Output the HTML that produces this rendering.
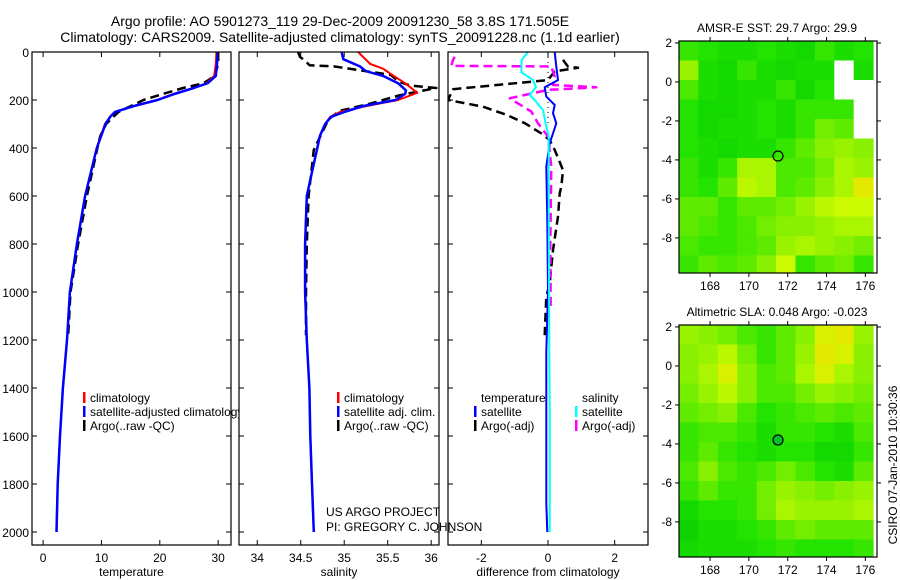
<!DOCTYPE html>
<html><head><meta charset="utf-8"><style>
html,body{margin:0;padding:0;background:#fff;}
svg{display:block;font-family:"Liberation Sans",sans-serif;}
</style></head><body>
<svg id="fig" width="900" height="580" viewBox="0 0 900 580" xmlns="http://www.w3.org/2000/svg">
<rect width="900" height="580" fill="#fff"/>
<text x="340" y="26" font-size="14" text-anchor="middle">Argo profile: AO 5901273_119 29-Dec-2009 20091230_58 3.8S 171.505E</text>
<text x="340" y="42" font-size="14" text-anchor="middle">Climatology: CARS2009. Satellite-adjusted climatology: synTS_20091228.nc (1.1d earlier)</text>
<text x="777" y="32" font-size="12" text-anchor="middle">AMSR-E SST: 29.7 Argo: 29.9</text>
<text x="777" y="316" font-size="12" text-anchor="middle">Altimetric SLA: 0.048 Argo: -0.023</text>
<text transform="translate(897,465) rotate(-90)" font-size="12" text-anchor="middle">CSIRO 07-Jan-2010 10:30:36</text>
<g id="plots"></g>
</svg>
<script>
// ---- profile data ----
const depthTClim = [0,50,100,130,150,175,200,225,250,270,300,400,600,800,1000,1200,1400,1600,1800,2000];
const tempClim   = [29.7,29.6,29.3,28,25.8,22.3,19.5,15.5,12.3,11.5,10.6,9.2,7.2,5.8,4.6,4.1,3.4,2.9,2.5,2.3];
const tempSat    = [29.9,29.8,29.6,28.2,25.8,22.5,19.6,15.6,12.3,11.5,10.7,9.2,7.2,5.8,4.6,4.1,3.4,2.9,2.5,2.3];
const depthTArgo = [0,50,100,130,150,175,200,250,300,350,400,600,800,1000,1180];
const tempArgo   = [30,30,29.4,27.5,24,20.5,17.2,12.9,10.8,9.8,9.3,7.5,6.0,4.7,4.3];

const depthSClim = [0,50,70,100,130,170,200,225,250,270,300,350,400,500,600,800,1000,1200,1400,1600,1800,2000];
const salClim    = [35.16,35.30,35.45,35.57,35.70,35.84,35.62,35.26,34.95,34.84,34.78,34.72,34.69,34.63,34.57,34.55,34.55,34.57,34.60,34.61,34.63,34.65];
const depthSSat  = [0,30,60,80,100,130,160,175,200,225,250,270,300,350,400,500,600,800,1000,1200,1400,1600,1800,2000];
const salSat     = [34.97,34.99,35.18,35.25,35.45,35.62,35.71,35.70,35.59,35.22,35.0,34.85,34.78,34.72,34.69,34.63,34.57,34.55,34.55,34.57,34.60,34.61,34.63,34.65];
const depthSArgo = [0,20,40,55,60,95,125,140,150,180,215,245,280,340,408,600,800,1000,1180];
const salArgo    = [34.47,34.49,34.56,34.60,34.88,35.53,35.64,35.76,36.06,35.64,35.30,34.95,34.82,34.74,34.65,34.59,34.57,34.56,34.56];

const depthDT    = [0,61,117,147,186,221,255,297,339,380,478,700,1000,1250,1500,1880,2000];
const diffTSat   = [0.2,0.25,0.3,-0.1,-0.05,0.2,0.15,0.25,0.15,0.05,-0.05,-0.02,0,-0.05,-0.05,-0.05,-0.02];
const depthDS    = [0,33,84,117,147,179,200,242,311,350,600,1000,1500,2000];
const diffSSat   = [-0.6,-0.79,-0.8,-0.45,-0.36,-0.55,-0.4,-0.15,-0.05,0.02,0.02,0.03,0.05,0.05];
const depthDTA   = [33,61,66,81,117,155,200,228,262,297,339,367,408,492,561,589,686,825,964,1020,1180];
const diffTArgo  = [0.45,0.6,0.9,0.2,0,-2.85,-3.0,-1.95,-1.24,-0.69,-0.2,0.05,0.2,0.45,0.4,0.35,0.3,0.15,0.05,-0.05,-0.1];
const depthDSA   = [20,33,58,60,103,137,147,158,193,214,248,297,352,478,800,1075];
const diffSArgo  = [-2.8,-2.85,-2.9,0.1,0.2,0.15,1.45,0.0,-1.15,-0.9,-0.5,-0.3,0.0,0.1,0.07,0.08];

const depthTicks = [0,200,400,600,800,1000,1200,1400,1600,1800,2000];
const tempTicks = [0,10,20,30];
const salTicks = [34,34.5,35,35.5,36];
const salTickLabels = ["34","34.5","35","35.5","36"];
const diffTicks = [-2,0,2];

// ---- map data (rows north→south, 1° cells) ----
const mapLon = [166.4,167.4,168.4,169.4,170.4,171.4,172.4,173.4,174.4,175.4];
const mapLat = [2.1,1.1,0.1,-0.9,-1.9,-2.9,-3.9,-4.9,-5.9,-6.9,-7.9,-8.9];
const sstGrid = [
[.3,.25,.2,.2,.25,.2,.15,.3,.2,.25],
[.55,.2,.15,.3,.2,.15,.2,.2,null,.2],
[.35,.2,.15,.2,.2,.3,.15,.25,null,null],
[.25,.15,.15,.2,.25,.2,.3,.3,.3,null],
[.25,.15,.2,.2,.25,.2,.3,.45,.4,null],
[.25,.2,.15,.2,.2,.3,.4,.5,.55,.5],
[.3,.2,.3,.6,.6,.35,.35,.45,.6,.55],
[.3,.25,.4,.65,.6,.35,.4,.5,.6,.8],
[.4,.4,.3,.4,.4,.45,.55,.65,.7,.7],
[.4,.35,.3,.35,.45,.5,.5,.55,.6,.6],
[.35,.3,.3,.35,.4,.55,.6,.55,.5,.45],
[.3,.4,.35,.4,.5,.7,.3,.4,.45,.3]];
const slaGrid = [
[.55,.5,.45,.35,.3,.4,.5,.75,.8,.55],
[.5,.55,.65,.45,.3,.4,.55,.8,.75,.5],
[.5,.6,.75,.5,.35,.4,.6,.75,.6,.5],
[.45,.55,.65,.5,.35,.35,.45,.55,.5,.45],
[.4,.45,.5,.35,.25,.3,.35,.4,.35,.4],
[.3,.35,.35,.3,.2,.3,.3,.25,.2,.35],
[.3,.4,.3,.25,.2,.25,.25,.15,.15,.3],
[.35,.5,.35,.3,.35,.45,.35,.25,.2,.4],
[.3,.4,.3,.3,.45,.55,.5,.45,.5,.55],
[.15,.25,.25,.3,.45,.6,.55,.55,.55,.6],
[.1,.2,.2,.25,.3,.4,.45,.4,.4,.4],
[.15,.2,.2,.2,.25,.3,.25,.25,.25,.3]];
const lonTicks = [168,170,172,174,176];
const latTicks = [2,0,-2,-4,-6,-8];
const floatPos = [171.5,-3.8];

const NS='http://www.w3.org/2000/svg';
const root=document.getElementById('plots');
function mk(tag,attrs,parent){const e=document.createElementNS(NS,tag);for(const k in attrs)e.setAttribute(k,attrs[k]);(parent||root).appendChild(e);return e;}

const Y0=52,YB=545,PPM=0.24;
const yD=d=>Y0+d*PPM;

function panel(name,x0,x1,vmin,vmax,ticks,labels,xlabel,withY){
  const sx=v=>x0+(v-vmin)/(vmax-vmin)*(x1-x0);
  const g=mk('g',{});
  
  
  const bg=mk('rect',{x:x0,y:Y0,width:x1-x0,height:YB-Y0,fill:'#fff'},g);
  const cp=mk('clipPath',{id:'clip-'+name},g);
  mk('rect',{x:x0,y:Y0,width:x1-x0,height:YB-Y0},cp);
  const marks=mk('g',{'clip-path':'url(#clip-'+name+')'},g);
  const ax=mk('g',{},g);
  
  
  ticks.forEach((t,i)=>{const x=sx(t);
    mk('line',{x1:x,x2:x,y1:YB,y2:YB-5,stroke:'#000'},ax);
    mk('line',{x1:x,x2:x,y1:Y0,y2:Y0+5,stroke:'#000'},ax);
    const tl=mk('text',{x:x,y:YB+17,'font-size':12,'text-anchor':'middle'},ax);tl.textContent=labels[i];
    
    
  });
  depthTicks.forEach(d=>{const y=yD(d);
    mk('line',{x1:x0,x2:x0+5,y1:y,y2:y,stroke:'#000'},ax);
    mk('line',{x1:x1,x2:x1-5,y1:y,y2:y,stroke:'#000'},ax);
    if(withY){const tl=mk('text',{x:x0-3,y:y+5,'font-size':12,'text-anchor':'end'},ax);tl.textContent=d;
      
      }
  });
  const xl=mk('text',{x:(x0+x1)/2,y:YB+31,'font-size':12,'text-anchor':'middle'},ax);xl.textContent=xlabel;
  
  
  return {sx,marks,g,frame:()=>mk('rect',{x:x0,y:Y0,width:x1-x0,height:YB-Y0,fill:'none',stroke:'#000','stroke-width':1.2},g)};
}
function line(p,depths,vals,color,w,dash,nm){
  const pts=vals.map((v,i)=>p.sx(v).toFixed(1)+','+yD(depths[i]).toFixed(1)).join(' ');
  const pl=mk('polyline',{points:pts,fill:'none',stroke:color,'stroke-width':w,'stroke-dasharray':dash||'none','stroke-linejoin':'round'},p.marks);
  
  
}
function legend(parent,x,y,color,label,nm){
  const g=mk('g',{},parent);
  
  
  if(color) mk('rect',{x:x-7,y:y-10,width:2.5,height:11,fill:color},g);
  const t=mk('text',{x:x,y:y,'font-size':12},g);t.textContent=label;
}

// panel 1 first (legend overflows under panel 2)
const p1=panel('temperature-panel',32,231,-1.9,32.2,tempTicks,tempTicks.map(String),'temperature',true);
line(p1,depthTArgo,tempArgo,'#000',2.5,'9,5','temperature-argo-line');
line(p1,depthTClim,tempClim,'#f00',2,null,'temperature-climatology-line');
line(p1,depthTClim,tempSat,'#00f',2.5,null,'temperature-satellite-line');
p1.frame();
legend(root,90,402,'#f00','climatology','legend-climatology');
legend(root,90,416,'#00f','satellite-adjusted climatology','legend-satellite-adjusted');
legend(root,90,430,'#000','Argo(..raw -QC)','legend-argo-raw');

const p2=panel('salinity-panel',239,439,33.79,36.09,salTicks,salTickLabels,'salinity',false);
line(p2,depthSArgo,salArgo,'#000',2.5,'9,5','salinity-argo-line');
line(p2,depthSClim,salClim,'#f00',2,null,'salinity-climatology-line');
line(p2,depthSSat,salSat,'#00f',2.5,null,'salinity-satellite-line');
p2.frame();
legend(p2.g,344,402,'#f00','climatology','legend-sal-climatology');
legend(p2.g,344,416,'#00f','satellite adj. clim.','legend-sal-satellite');
legend(p2.g,344,430,'#000','Argo(..raw -QC)','legend-sal-argo');

const p3=panel('difference-panel',448,648,-3.0,3.0,diffTicks,diffTicks.map(String),'difference from climatology',false);
mk('line',{x1:p3.sx(0),x2:p3.sx(0),y1:Y0,y2:yD(300),stroke:'#000','stroke-width':1,'stroke-dasharray':'1,4'},p3.marks);
line(p3,depthDTA,diffTArgo,'#000',2.5,'9,5','temp-argo-diff-line');
line(p3,depthDSA,diffSArgo,'#f0f',2.5,'9,5','sal-argo-diff-line');
line(p3,depthDT,diffTSat,'#00f',2,null,'temp-satellite-diff-line');
line(p3,depthDS,diffSSat,'#0ff',2,null,'sal-satellite-diff-line');
p3.frame();
legend(p3.g,481,402,null,'temperature','legend-diff-temperature-header');
legend(p3.g,481,416,'#00f','satellite','legend-diff-temp-satellite');
legend(p3.g,481,430,'#000','Argo(-adj)','legend-diff-temp-argo');
legend(p3.g,582,402,null,'salinity','legend-diff-salinity-header');
legend(p3.g,582,416,'#0ff','satellite','legend-diff-sal-satellite');
legend(p3.g,582,430,'#f0f','Argo(-adj)','legend-diff-sal-argo');

const credit=mk('text',{x:326,y:516,'font-size':12});credit.textContent='US ARGO PROJECT';


const pi=mk('text',{x:326,y:531,'font-size':12});pi.textContent='PI: GREGORY C. JOHNSON';



// ---- maps ----
const stops=[[0,[0,200,0]],[0.25,[34,228,0]],[0.5,[136,240,0]],[0.7,[204,250,0]],[0.85,[240,224,0]],[1,[240,144,0]]];
function cmap(v){for(let i=1;i<stops.length;i++){if(v<=stops[i][0]){const a=stops[i-1],b=stops[i],t=(v-a[0])/(b[0]-a[0]);
  return 'rgb('+a[1].map((c,k)=>Math.round(c+(b[1][k]-c)*t)).join(',')+')';}}return 'rgb(240,144,0)';}
function map(name,top,bottom,grid,filled){
  const L=679,R=877,lon0=166.4,lon1=176.6,lat0=2.1,lat1=-9.8;
  const sx=lo=>L+(lo-lon0)/(lon1-lon0)*(R-L);
  const sy=la=>top+(lat0-la)/(lat0-lat1)*(bottom-top);
  const g=mk('g',{});
  
  
  grid.forEach((row,r)=>row.forEach((v,c)=>{
    const x=sx(mapLon[c]),y=sy(mapLat[r]);
    const w=sx(mapLon[c]+1)-x+0.5, h=sy(mapLat[r]-1)-y+0.5;
    const cell=mk('rect',{x:x,y:y,width:w,height:Math.min(h,bottom-y),fill:v===null?'#fff':cmap(v)},g);
    
    
  }));
  mk('rect',{x:L,y:top,width:R-L,height:bottom-top,fill:'none',stroke:'#000','stroke-width':1.2},g);
  lonTicks.forEach(lo=>{const x=sx(lo);
    mk('line',{x1:x,x2:x,y1:bottom,y2:bottom+4,stroke:'#000'},g);
    mk('line',{x1:x,x2:x,y1:top,y2:top-4,stroke:'#000'},g);
    const t=mk('text',{x:x,y:bottom+17,'font-size':12,'text-anchor':'middle'},g);t.textContent=lo;
    
    });
  latTicks.forEach(la=>{const y=sy(la);
    mk('line',{x1:L-4,x2:L,y1:y,y2:y,stroke:'#000'},g);
    mk('line',{x1:R,x2:R+4,y1:y,y2:y,stroke:'#000'},g);
    const t=mk('text',{x:L-7,y:y+4,'font-size':12,'text-anchor':'end'},g);t.textContent=la;
    
    });
  const c=mk('circle',{cx:sx(floatPos[0]),cy:sy(floatPos[1]),r:5,fill:filled?'#00c030':'none',stroke:'#000','stroke-width':1.2},g);
  
  
}
map('sst-map',41,273,sstGrid,false);
map('sla-map',325,557,slaGrid,true);
</script>
</body></html>
